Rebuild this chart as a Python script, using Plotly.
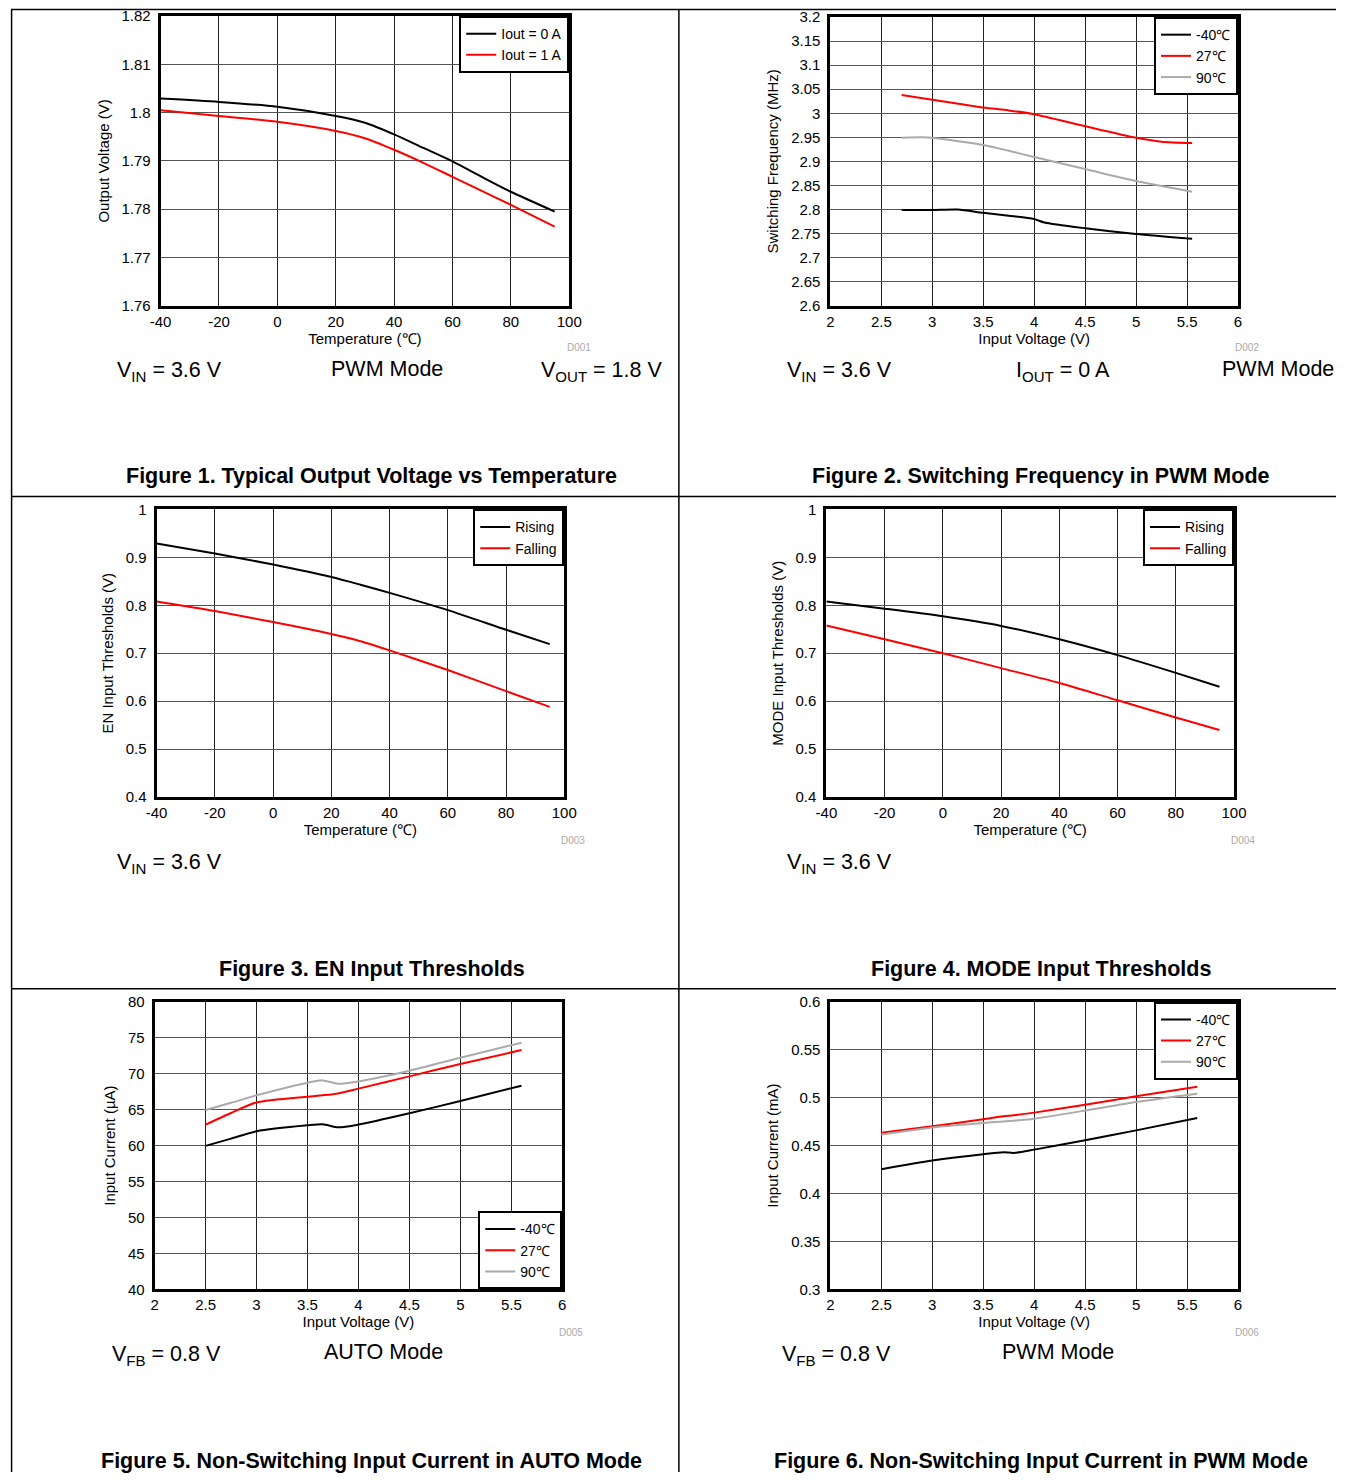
import plotly.graph_objects as go

W, H = 1349, 1480
FONT = "Arial, 'Liberation Sans', sans-serif"

# The photographed page has an 8px body margin and is slightly scaled;
# reference pixel positions are converted through this mapping.
KX, KY, M = 0.9855, 0.9898, 8.0

# ---------------- data ----------------
# Figure 1: Output voltage vs temperature
f1_temp = [-40, -20, 0, 20, 30, 40, 50, 60, 70, 80, 95]
f1_iout0 = [1.8029, 1.8022, 1.8012, 1.7993, 1.7979, 1.7955, 1.7927, 1.7899, 1.7867, 1.7836, 1.7795]
f1_iout1 = [1.8005, 1.7993, 1.7981, 1.7962, 1.7947, 1.7923, 1.7896, 1.7867, 1.7838, 1.7809, 1.7764]

# Figure 2: Switching frequency vs input voltage
f2_vin_m40 = [2.7, 3.0, 3.25, 3.5, 3.75, 4.0, 4.1, 4.5, 5.0, 5.55]
f2_m40 = [2.799, 2.799, 2.800, 2.793, 2.787, 2.780, 2.773, 2.761, 2.749, 2.739]
f2_vin = [2.7, 3.0, 3.5, 3.75, 4.0, 4.5, 5.0, 5.25, 5.55]
f2_27 = [3.038, 3.028, 3.012, 3.006, 2.998, 2.973, 2.949, 2.941, 2.938]
f2_vin_90 = [2.7, 2.9, 3.0, 3.5, 3.75, 4.0, 4.5, 5.0, 5.55]
f2_90 = [2.949, 2.950, 2.949, 2.934, 2.922, 2.909, 2.884, 2.859, 2.837]

# Figure 3: EN input thresholds
f3_temp = [-40, -20, 0, 20, 30, 40, 60, 80, 95]
f3_rising = [0.929, 0.908, 0.885, 0.859, 0.843, 0.826, 0.790, 0.749, 0.719]
f3_falling = [0.808, 0.788, 0.765, 0.740, 0.725, 0.706, 0.665, 0.621, 0.588]

# Figure 4: MODE input thresholds
f4_temp = [-40, -20, 0, 20, 40, 60, 80, 95]
f4_rising = [0.808, 0.793, 0.777, 0.757, 0.729, 0.696, 0.659, 0.630]
f4_falling = [0.758, 0.729, 0.700, 0.669, 0.638, 0.602, 0.566, 0.540]

# Figure 5: Non-switching input current, AUTO mode (uA)
f5_vin = [2.5, 2.75, 3.0, 3.5, 3.65, 3.8, 4.0, 4.5, 5.0, 5.6]
f5_m40 = [59.96, 60.97, 61.99, 62.82, 62.96, 62.54, 62.92, 64.49, 66.20, 68.33]
f5_27 = [62.92, 64.54, 66.00, 66.80, 67.00, 67.26, 67.92, 69.63, 71.35, 73.29]
f5_90 = [64.96, 65.95, 66.99, 68.75, 69.07, 68.60, 68.93, 70.42, 72.22, 74.30]

# Figure 6: Non-switching input current, PWM mode (mA)
f6_vin = [2.5, 3.0, 3.5, 3.7, 3.8, 4.0, 4.5, 5.0, 5.6]
f6_m40 = [0.4253, 0.4344, 0.4410, 0.4430, 0.4424, 0.4458, 0.4555, 0.4659, 0.4788]
f6_27 = [0.4635, 0.4701, 0.4774, 0.4805, 0.4816, 0.4844, 0.4927, 0.5014, 0.5115]
f6_90 = [0.4615, 0.4690, 0.4736, 0.4752, 0.4760, 0.4781, 0.4865, 0.4955, 0.5042]

# tick values / labels
temp_ticks = [-40, -20, 0, 20, 40, 60, 80, 100]
temp_labels = ["-40", "-20", "0", "20", "40", "60", "80", "100"]
vin_ticks = [2, 2.5, 3, 3.5, 4, 4.5, 5, 5.5, 6]
vin_labels = ["2", "2.5", "3", "3.5", "4", "4.5", "5", "5.5", "6"]
f1_yticks = [1.76, 1.77, 1.78, 1.79, 1.80, 1.81, 1.82]
f1_ylabels = ["1.76", "1.77", "1.78", "1.79", "1.8", "1.81", "1.82"]
f2_yticks = [2.6, 2.65, 2.7, 2.75, 2.8, 2.85, 2.9, 2.95, 3.0, 3.05, 3.1, 3.15, 3.2]
f2_ylabels = ["2.6", "2.65", "2.7", "2.75", "2.8", "2.85", "2.9", "2.95", "3", "3.05", "3.1", "3.15", "3.2"]
thr_yticks = [0.4, 0.5, 0.6, 0.7, 0.8, 0.9, 1.0]
thr_ylabels = ["0.4", "0.5", "0.6", "0.7", "0.8", "0.9", "1"]
f5_yticks = [40, 45, 50, 55, 60, 65, 70, 75, 80]
f5_ylabels = ["40", "45", "50", "55", "60", "65", "70", "75", "80"]
f6_yticks = [0.3, 0.35, 0.4, 0.45, 0.5, 0.55, 0.6]
f6_ylabels = ["0.3", "0.35", "0.4", "0.45", "0.5", "0.55", "0.6"]

BLACK, RED, GRAY = "#000000", "#FF0000", "#AAAAAA"


def X(r):
    return max(0.6, r / KX - M) / W


def Y(r):
    return 1 - max(0.6, r / KY - M) / H


panels = [
    dict(box=(158, 15, 568, 305), xr=(-40, 100), yr=(1.76, 1.82),
         xt=(temp_ticks, temp_labels), yt=(f1_yticks, f1_ylabels),
         xtitle="Temperature (℃)", ytitle="Output Voltage (V)",
         series=[(f1_temp, f1_iout0, "Iout = 0 A", BLACK), (f1_temp, f1_iout1, "Iout = 1 A", RED)],
         leg="top"),
    dict(box=(830, 16, 1239, 305), xr=(2, 6), yr=(2.6, 3.2),
         xt=(vin_ticks, vin_labels), yt=(f2_yticks, f2_ylabels),
         xtitle="Input Voltage (V)", ytitle="Switching Frequency (MHz)",
         series=[(f2_vin_m40, f2_m40, "-40℃", BLACK), (f2_vin, f2_27, "27℃", RED), (f2_vin_90, f2_90, "90℃", GRAY)],
         leg="top"),
    dict(box=(154, 509, 563, 797), xr=(-40, 100), yr=(0.4, 1.0),
         xt=(temp_ticks, temp_labels), yt=(thr_yticks, thr_ylabels),
         xtitle="Temperature (℃)", ytitle="EN Input Thresholds (V)",
         series=[(f3_temp, f3_rising, "Rising", BLACK), (f3_temp, f3_falling, "Falling", RED)],
         leg="top"),
    dict(box=(826, 509, 1235, 797), xr=(-40, 100), yr=(0.4, 1.0),
         xt=(temp_ticks, temp_labels), yt=(thr_yticks, thr_ylabels),
         xtitle="Temperature (℃)", ytitle="MODE Input Thresholds (V)",
         series=[(f4_temp, f4_rising, "Rising", BLACK), (f4_temp, f4_falling, "Falling", RED)],
         leg="top"),
    dict(box=(152, 1002, 561, 1290), xr=(2, 6), yr=(40, 80),
         xt=(vin_ticks, vin_labels), yt=(f5_yticks, f5_ylabels),
         xtitle="Input Voltage (V)", ytitle="Input Current (µA)",
         series=[(f5_vin, f5_m40, "-40℃", BLACK), (f5_vin, f5_27, "27℃", RED), (f5_vin, f5_90, "90℃", GRAY)],
         leg="bottom"),
    dict(box=(830, 1002, 1239, 1290), xr=(2, 6), yr=(0.3, 0.6),
         xt=(vin_ticks, vin_labels), yt=(f6_yticks, f6_ylabels),
         xtitle="Input Voltage (V)", ytitle="Input Current (mA)",
         series=[(f6_vin, f6_m40, "-40℃", BLACK), (f6_vin, f6_27, "27℃", RED), (f6_vin, f6_90, "90℃", GRAY)],
         leg="top"),
]

fig = go.Figure()
layout = dict(width=W, height=H, margin=dict(l=0, r=0, t=0, b=0),
              paper_bgcolor="white", plot_bgcolor="white",
              font=dict(family=FONT, size=15, color="black"))

for i, p in enumerate(panels):
    n = i + 1
    sfx = "" if n == 1 else str(n)
    l, t, r, b = p["box"]
    legname = "legend" + sfx
    for xs, ys, name, col in p["series"]:
        fig.add_trace(go.Scatter(x=xs, y=ys, mode="lines", name=name,
                                 line=dict(color=col, width=2, shape="spline", smoothing=0.7),
                                 xaxis="x" + sfx, yaxis="y" + sfx, legend=legname))
    common = dict(showgrid=True, gridwidth=1, zeroline=False, showline=True,
                  linecolor="black", linewidth=3, mirror=True, ticks="",
                  tickfont=dict(size=15, family=FONT, color="black"), fixedrange=True)
    layout["xaxis" + sfx] = dict(common, domain=[X(l), X(r)], range=list(p["xr"]),
                                 tickvals=p["xt"][0], ticktext=p["xt"][1], gridcolor="#222222",
                                 anchor="y" + sfx, ticklabelstandoff=0,
                                 title=dict(text=p["xtitle"], font=dict(size=15, family=FONT), standoff=1))
    layout["yaxis" + sfx] = dict(common, domain=[Y(b), Y(t)], range=list(p["yr"]),
                                 tickvals=p["yt"][0], ticktext=p["yt"][1], gridcolor="#555555",
                                 anchor="x" + sfx, ticklabelstandoff=4,
                                 title=dict(text=p["ytitle"], font=dict(size=15, family=FONT), standoff=9))
    if p["leg"] == "top":
        legpos = dict(x=X(r), y=Y(t), xanchor="right", yanchor="top")
    else:
        legpos = dict(x=X(r), y=Y(b), xanchor="right", yanchor="bottom")
    layout[legname] = dict(legpos, bgcolor="white", bordercolor="black", borderwidth=2,
                           font=dict(size=14, family=FONT, color="black"),
                           itemwidth=30, tracegroupgap=0, traceorder="normal")

# -------- annotations --------
ann = []


def text(x, y, s, size=21.5, xanchor="left", color="black"):
    ann.append(dict(x=X(x), y=Y(y), xref="paper", yref="paper", text=s, showarrow=False,
                    xanchor=xanchor, yanchor="middle",
                    font=dict(size=size, family=FONT, color=color)))


# conditions
text(112, 371, "V<sub>IN</sub> = 3.6 V")
text(385, 368, "PWM Mode", xanchor="center")
text(538, 371, "V<sub>OUT</sub> = 1.8 V")
text(784, 371, "V<sub>IN</sub> = 3.6 V")
text(1014, 371, "I<sub>OUT</sub> = 0 A")
text(1221, 368, "PWM Mode")
text(112, 864, "V<sub>IN</sub> = 3.6 V")
text(784, 864, "V<sub>IN</sub> = 3.6 V")
text(107, 1356, "V<sub>FB</sub> = 0.8 V")
text(320, 1353, "AUTO Mode")
text(779, 1356, "V<sub>FB</sub> = 0.8 V")
text(1000, 1353, "PWM Mode")

# captions
caps = [(370, 476, "Figure 1. Typical Output Voltage vs Temperature"),
        (1041, 476, "Figure 2. Switching Frequency in PWM Mode"),
        (370, 969, "Figure 3. EN Input Thresholds"),
        (1041, 969, "Figure 4. MODE Input Thresholds"),
        (370, 1462, "Figure 5. Non-Switching Input Current in AUTO Mode"),
        (1041, 1462, "Figure 6. Non-Switching Input Current in PWM Mode")]
for x, y, s in caps:
    text(x, y, "<b>" + s + "</b>", size=21.5, xanchor="center")

# small IDs
for x, y, s in [(578, 347, "D001"), (1248, 347, "D002"), (572, 840, "D003"),
                (1244, 840, "D004"), (570, 1333, "D005"), (1248, 1333, "D006")]:
    text(x, y, s, size=10, xanchor="center", color="#AAAAAA")

layout["annotations"] = ann

# table grid lines
shapes = []


def hline(y):
    shapes.append(dict(type="line", xref="paper", yref="paper", x0=0, x1=1,
                       y0=y, y1=y, line=dict(color="black", width=1.5)))


def vline(x):
    shapes.append(dict(type="line", xref="paper", yref="paper", x0=x, x1=x,
                       y0=Y(4), y1=0, line=dict(color="black", width=1.5)))


for y in (4, 496, 989):
    hline(Y(y))
vline(X(7))
vline(X(678))
layout["shapes"] = shapes

fig.update_layout(**layout)

POST = """
document.documentElement.style.margin='0';
document.body.style.margin='0';
document.documentElement.style.overflow='hidden';
document.body.style.overflow='hidden';
"""
fig.write_html("out.html", config={"displayModeBar": False},
               post_script=POST)
